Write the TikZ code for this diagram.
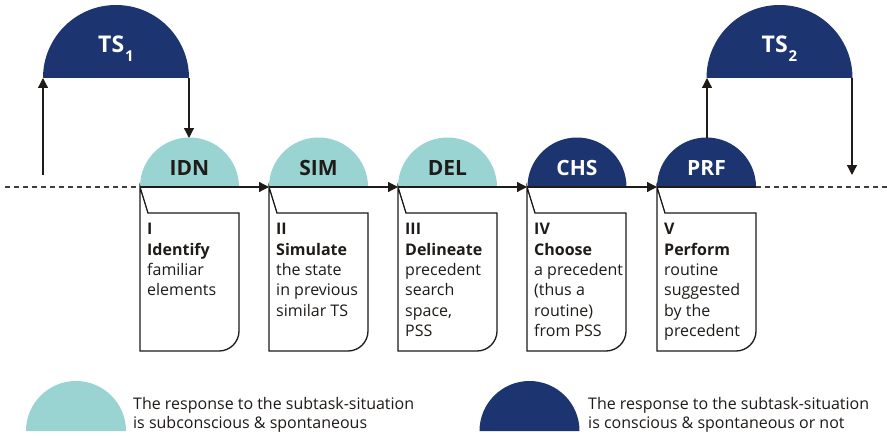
\documentclass[tikz,border=0pt]{standalone}
\usepackage{fontspec}
\setmainfont{Open Sans}
\usetikzlibrary{arrows.meta}
\definecolor{teal}{HTML}{9AD4D2}
\definecolor{navy}{HTML}{1C3470}
\definecolor{ink}{HTML}{1E1B18}
\tikzset{
  conn/.style={draw=ink, line width=1.3pt},
  arr/.style={conn, -{Triangle[length=10pt,width=10pt]}},
  dashline/.style={draw=ink!85, line width=1.2pt, dash pattern=on 5pt off 4pt},
  lbl/.style={anchor=base, inner sep=0pt, font=\fontsize{21}{21}\selectfont\bfseries},
  boxtext/.style={anchor=north west, inner sep=0pt, align=left, text=ink, font=\fontsize{16}{20.3}\selectfont},
  legtext/.style={anchor=north west, inner sep=0pt, align=left, text=ink, font=\fontsize{16}{19.5}\selectfont},
  tslbl/.style={anchor=base, inner sep=0pt, text=white, font=\fontsize{23}{23}\selectfont\bfseries}
}
\newcommand{\halfdisc}[4]{% color, cx, base y, radius
  \fill[#1] (#2-#4,#3) arc[start angle=180, end angle=360, radius=#4] -- cycle;}
\newcommand{\callout}[1]{% left x
  \draw[conn, line join=miter] (#1,187) -- (#1+8,213) -- (#1+99,213) -- (#1+99,331)
    arc[start angle=0, end angle=90, radius=20] -- (#1,351) -- cycle;}
\begin{document}
\begin{tikzpicture}[x=1pt,y=-1pt]
\useasboundingbox[fill=white] (0,0) rectangle (887,436);
% TS semicircles
\halfdisc{navy}{116}{78}{73}
\halfdisc{navy}{779.5}{78}{73}
\node[tslbl] (ts1) at (116,53) {TS\kern1pt\raisebox{-8.5pt}{\fontsize{15}{15}\selectfont 1}};
\node[tslbl] (ts2) at (779.5,53) {TS\kern1pt\raisebox{-8.5pt}{\fontsize{15}{15}\selectfont 2}};
% step semicircles
\halfdisc{teal}{189.5}{187}{49.5}
\halfdisc{teal}{318.5}{187}{49.5}
\halfdisc{teal}{447.5}{187}{49.5}
\halfdisc{navy}{577}{187}{49.5}
\halfdisc{navy}{706.5}{187}{49.5}
\node[lbl, text=ink] (idn) at (189.5,175) {IDN};
\node[lbl, text=ink] (sim) at (318.5,175) {SIM};
\node[lbl, text=ink] (del) at (447.5,175) {DEL};
\node[lbl, text=white] (chs) at (577,175) {CHS};
\node[lbl, text=white] (prf) at (706.5,175) {PRF};
% coordinates
\coordinate (l0) at (5,187);
\coordinate (b1) at (140,187);
\coordinate (b2) at (269,187);
\coordinate (b3) at (398,187);
\coordinate (b4) at (527,187);
\coordinate (b5) at (657,187);
\coordinate (e5) at (756,187);
\coordinate (r0) at (887,187);
\coordinate (up1s) at (43,175);
\coordinate (ts1l) at (43,78);
\coordinate (ts1r) at (189,78);
\coordinate (idntop) at (189,138);
\coordinate (prftop) at (707,138);
\coordinate (ts2l) at (707,78);
\coordinate (ts2r) at (852,78);
\coordinate (dn2e) at (852,175);
% main line
\draw[dashline] (l0) -- (b1);
\draw[dashline] (e5) -- (r0);
\draw[arr] (b1) -- (b2);
\draw[arr] (b2) -- (b3);
\draw[arr] (b3) -- (b4);
\draw[arr] (b4) -- (b5);
\draw[conn] (b5) -- (e5);
% vertical arrows
\draw[arr] (up1s) -- (ts1l);
\draw[arr] (ts1r) -- (idntop);
\draw[arr] (prftop) -- (ts2l);
\draw[arr] (ts2r) -- (dn2e);
% callouts
\callout{140}
\callout{269}
\callout{398}
\callout{527}
\callout{657}
\node[boxtext] (t1) at (147,223.3) {\textbf{I}\\\textbf{Identify}\\familiar\\elements};
\node[boxtext] (t2) at (276,223.3) {\textbf{II}\\\textbf{Simulate}\\the state\\in previous\\similar TS};
\node[boxtext] (t3) at (405,223.3) {\textbf{III}\\\textbf{Delineate}\\precedent\\search\\space,\\PSS};
\node[boxtext] (t4) at (534,223.3) {\textbf{IV}\\\textbf{Choose}\\a precedent\\(thus a\\routine)\\from PSS};
\node[boxtext] (t5) at (664,223.3) {\textbf{V}\\\textbf{Perform}\\routine\\suggested\\by the\\precedent};
% legend
\halfdisc{teal}{76}{431}{50}
\halfdisc{navy}{529.5}{431}{50}
\node[legtext] (lg1) at (133,397) {The response to the subtask-situation\\is subconscious \& spontaneous};
\node[legtext] (lg2) at (588,397) {The response to the subtask-situation\\is conscious \& spontaneous or not};
\end{tikzpicture}
\end{document}
